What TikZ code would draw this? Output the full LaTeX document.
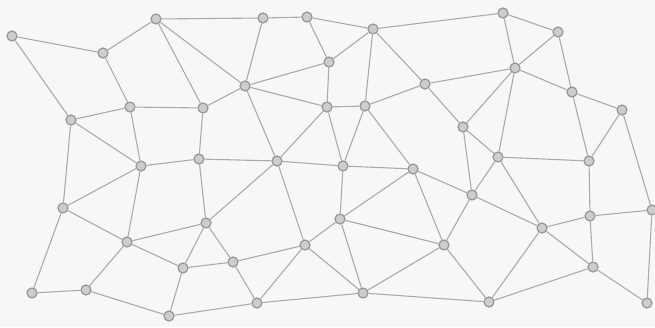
\documentclass[tikz,border=0pt]{standalone}
\definecolor{pagebg}{HTML}{F7F7F7}
\definecolor{edgecol}{HTML}{ABABAB}
\definecolor{nodefill}{HTML}{CDCDCD}
\definecolor{nodedraw}{HTML}{969696}
\tikzset{
  vtx/.style={circle, fill=nodefill, draw=nodedraw, line width=1.2pt, minimum size=10pt, inner sep=0pt},
  edg/.style={draw=edgecol, line width=1.1pt}
}
\begin{document}
\begin{tikzpicture}[x=1pt,y=-1pt]
\fill[pagebg] (0,0) rectangle (655,327);
\useasboundingbox (0,0) rectangle (655,327);
\foreach \n/\x/\y in {
 n1/12/36, n2/156/19, n3/103/53, n4/130/107, n5/71/120, n6/141/166,
 n7/263/18, n8/307/17, n9/329/62, n10/245/86, n11/203/108, n12/327/107,
 n13/199/159, n14/277/161, n15/373/29, n16/425/84, n17/365/106, n18/463/127,
 n19/343/166, n20/413/169, n21/503/13, n22/558/32, n23/515/68, n24/572/92,
 n25/622/110, n26/498/157, n27/589/161, n28/63/208, n29/127/242, n30/32/293,
 n31/86/290, n32/169/316, n33/206/223, n34/305/245, n35/233/262, n36/183/268,
 n37/257/303, n38/472/195, n39/340/219, n40/444/245, n41/363/293, n42/489/302,
 n43/542/228, n44/590/216, n45/652/210, n46/593/267, n47/647/303}
 {\node[vtx] (\n) at (\x,\y) {};}
\foreach \a/\b in {
 n1/n3, n3/n2, n1/n5, n3/n4, n5/n4, n4/n6, n5/n6, n5/n28, n4/n11, n2/n7, n2/n10, n2/n11, n6/n13,
 n7/n8, n7/n10, n8/n9, n10/n9, n10/n12, n10/n11, n10/n14, n11/n13, n12/n14, n13/n14, n14/n19, n8/n15,
 n15/n21, n15/n9, n15/n17, n15/n16, n9/n12, n12/n17, n16/n17, n16/n23, n16/n18, n18/n23, n18/n38,
 n18/n26, n12/n19, n17/n19, n17/n20,
 n21/n22, n21/n23, n22/n23, n22/n24, n23/n24, n23/n26, n24/n25, n24/n27, n25/n27, n25/n45, n26/n27,
 n26/n43, n38/n43, n43/n44, n43/n46, n43/n42, n44/n27, n44/n45, n44/n46, n46/n42, n46/n47, n45/n47,
 n19/n20, n19/n39, n20/n39, n20/n40, n20/n38, n26/n38, n38/n40, n39/n40, n39/n41, n34/n39, n40/n41,
 n40/n42, n41/n42, n37/n41, n34/n41,
 n13/n33, n14/n33, n14/n34, n29/n33, n33/n36, n33/n35, n36/n35, n35/n34, n35/n37, n34/n37, n29/n36,
 n36/n32, n32/n37, n31/n32,
 n6/n28, n6/n29, n28/n29, n28/n30, n30/n31, n31/n29}
 {\draw[edg] (\a) -- (\b);}
\end{tikzpicture}
\end{document}
